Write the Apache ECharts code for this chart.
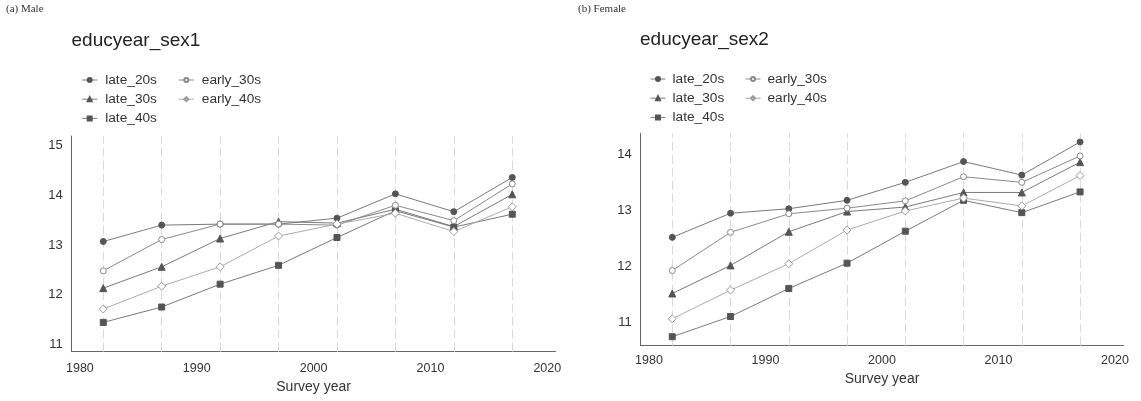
<!DOCTYPE html>
<html>
<head>
<meta charset="utf-8">
<script src="https://cdn.jsdelivr.net/npm/echarts@6/dist/echarts.min.js"></script>
<style>
html,body{margin:0;padding:0;background:#fff;}
#c{width:1141px;height:401px;}
</style>
</head>
<body>
<div id="c"></div>
<script>
// ---- data ----
const years = [1982, 1987, 1992, 1997, 2002, 2007, 2012, 2017];
const groups = ['late_20s', 'late_30s', 'late_40s', 'early_30s', 'early_40s'];
const xTickLabels = [1980, 1990, 2000, 2010, 2020];
const maleYTicks = [11, 12, 13, 14, 15];
const femaleYTicks = [11, 12, 13, 14];

const male_late_20s  = [13.07, 13.40, 13.42, 13.42, 13.54, 14.03, 13.67, 14.36];
const male_late_30s  = [12.13, 12.56, 13.13, 13.47, 13.44, 13.72, 13.37, 14.02];
const male_late_40s  = [11.44, 11.75, 12.21, 12.59, 13.15, 13.69, 13.36, 13.62];
const male_early_30s = [12.48, 13.11, 13.42, 13.42, 13.40, 13.80, 13.49, 14.23];
const male_early_40s = [11.71, 12.17, 12.56, 13.18, 13.42, 13.64, 13.27, 13.77];

const female_late_20s  = [12.52, 12.95, 13.03, 13.18, 13.50, 13.87, 13.63, 14.22];
const female_late_30s  = [11.52, 12.02, 12.62, 12.98, 13.06, 13.32, 13.32, 13.86];
const female_late_40s  = [10.75, 11.11, 11.61, 12.06, 12.63, 13.18, 12.96, 13.33];
const female_early_30s = [11.93, 12.61, 12.94, 13.04, 13.17, 13.60, 13.50, 13.97];
const female_early_40s = [11.07, 11.58, 12.05, 12.65, 12.99, 13.22, 13.08, 13.62];

const maleData = {
  late_20s: male_late_20s, late_30s: male_late_30s, late_40s: male_late_40s,
  early_30s: male_early_30s, early_40s: male_early_40s
};
const femaleData = {
  late_20s: female_late_20s, late_30s: female_late_30s, late_40s: female_late_40s,
  early_30s: female_early_30s, early_40s: female_early_40s
};

// ---- styles ----
const styles = {
  late_20s:  {symbol: 'circle',   size: 6, line: '#7a7a7a', fill: '#555555', border: '#555555'},
  late_30s:  {symbol: 'triangle', size: 7, line: '#7a7a7a', fill: '#555555', border: '#555555'},
  late_40s:  {symbol: 'rect',     size: 6, line: '#7a7a7a', fill: '#555555', border: '#555555'},
  early_30s: {symbol: 'circle',   size: 6, line: '#8a8a8a', fill: '#ffffff', border: '#888888'},
  early_40s: {symbol: 'diamond',  size: 8, line: '#ababab', fill: '#ffffff', border: '#9a9a9a'}
};

const FONT = 'Liberation Sans, Arial, sans-serif';

function buildSeries(dataMap, idx) {
  const out = [];
  // vertical dashed reference lines at survey years
  out.push({
    type: 'line', xAxisIndex: idx, yAxisIndex: idx, data: [], z: 1,
    silent: true, legendHoverLink: false,
    markLine: {
      silent: true, symbol: 'none', animation: false, z: 1,
      label: {show: false},
      emphasis: {disabled: true},
      lineStyle: {type: [9, 4], color: '#d9d9d9', width: 1},
      data: years.map(y => ({xAxis: y}))
    }
  });
  groups.forEach(g => {
    const s = styles[g];
    out.push({
      name: g, type: 'line', xAxisIndex: idx, yAxisIndex: idx, z: 3,
      data: years.map((y, i) => [y, dataMap[g][i]]),
      symbol: s.symbol, symbolSize: s.size, showSymbol: true,
      lineStyle: {color: s.line, width: 1},
      itemStyle: {color: s.fill, borderColor: s.border, borderWidth: 1},
      emphasis: {disabled: true}
    });
  });
  return out;
}

function legend(left, top, data, pad) {
  return {
    left: left, top: top, orient: 'vertical', data: data,
    itemWidth: 15, itemHeight: 5, itemGap: 0, padding: 0,
    selectedMode: false,
    lineStyle: {width: 1},
    textStyle: {fontSize: 13.7, lineHeight: 19.2, color: '#333', fontFamily: FONT, padding: [0, 0, 0, pad]}
  };
}

function xAxis(idx, min, max, margin, gap) {
  return {
    type: 'value', gridIndex: idx, min: min, max: max,
    name: 'Survey year', nameLocation: 'middle', nameGap: gap,
    nameTextStyle: {fontSize: 14, color: '#333', fontFamily: FONT},
    axisLine: {show: true, lineStyle: {color: '#666', width: 1}},
    axisTick: {show: false},
    splitLine: {show: false},
    axisLabel: {customValues: xTickLabels, formatter: v => String(v),
                fontSize: 12.5, color: '#333', fontFamily: FONT, margin: margin}
  };
}

function yAxis(idx, min, max, ticks) {
  return {
    type: 'value', gridIndex: idx, min: min, max: max,
    axisLine: {show: true, lineStyle: {color: '#666', width: 1}},
    axisTick: {show: false},
    splitLine: {show: false},
    axisLabel: {customValues: ticks, formatter: v => String(v),
                fontSize: 13, color: '#333', fontFamily: FONT, margin: 9}
  };
}

const chart = echarts.init(document.getElementById('c'), null, {renderer: 'canvas'});
chart.setOption({
  animation: false,
  backgroundColor: '#fff',
  title: [
    {text: '(a) Male', left: 6, top: 4, padding: 0,
     textStyle: {fontSize: 11, fontWeight: 'normal', color: '#333', fontFamily: 'Liberation Serif, Times New Roman, serif'}},
    {text: '(b) Female', left: 578, top: 4, padding: 0,
     textStyle: {fontSize: 11, fontWeight: 'normal', color: '#333', fontFamily: 'Liberation Serif, Times New Roman, serif'}},
    {text: 'educyear_sex1', left: 71.5, top: 31.5, padding: 0,
     textStyle: {fontSize: 19, fontWeight: 'normal', color: '#222', fontFamily: FONT}},
    {text: 'educyear_sex2', left: 640, top: 30, padding: 0,
     textStyle: {fontSize: 19, fontWeight: 'normal', color: '#222', fontFamily: FONT}}
  ],
  legend: [
    legend(81.7, 70.4, ['late_20s', 'late_30s', 'late_40s'], 3),
    legend(178.3, 70.4, ['early_30s', 'early_40s'], 3),
    legend(650, 69.4, ['late_20s', 'late_30s', 'late_40s'], 2),
    legend(745, 69.4, ['early_30s', 'early_40s'], 2)
  ],
  grid: [
    {left: 71.7, top: 136, width: 483.8, height: 215.7, containLabel: false},
    {left: 640.7, top: 133.3, width: 482.6, height: 212.4, containLabel: false}
  ],
  xAxis: [
    xAxis(0, 1979.3, 2020.7, 10, 28.6),
    xAxis(1, 1979.29, 2020.71, 8, 26.6)
  ],
  yAxis: [
    yAxis(0, 10.85, 15.195, maleYTicks),
    yAxis(1, 10.59, 14.374, femaleYTicks)
  ],
  series: buildSeries(maleData, 0).concat(buildSeries(femaleData, 1))
});
</script>
</body>
</html>
